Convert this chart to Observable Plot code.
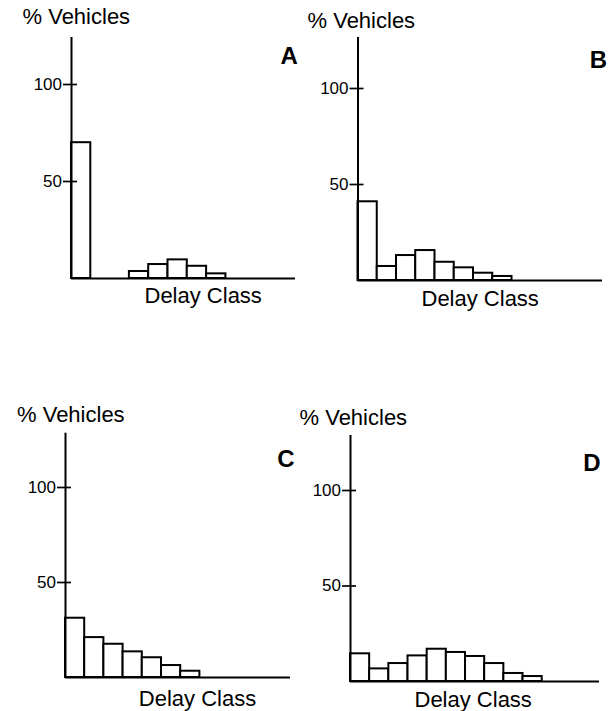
<!DOCTYPE html>
<html>
<head>
<meta charset="utf-8">
<script src="https://cdn.jsdelivr.net/npm/d3@7"></script>
<script src="https://cdn.jsdelivr.net/npm/@observablehq/plot@0.6"></script>
<style>
  html, body { margin: 0; padding: 0; background: white; }
  #chart { position: relative; width: 613px; height: 711px; overflow: hidden; }
  #chart > div { position: absolute; }
  #chart svg { overflow: visible; }
</style>
</head>
<body>
<div id="chart"></div>
<script>
// ---- data ----
const panelLetters = ["A", "B", "C", "D"];
const valuesA = [70, 0, 0, 3.6, 7.2, 9.6, 6.3, 2.4];
const valuesB = [41, 7.3, 13, 15.6, 9.5, 6.6, 3.8, 2.1];
const valuesC = [31.2, 21, 17.5, 13.5, 10.4, 6.3, 3.3];
const valuesD = [14.5, 6.6, 9.4, 13.4, 16.9, 15.2, 13.1, 9.4, 4.2, 2.6];
const yTicks = [50, 100];
const yLabel = "% Vehicles";
const xLabel = "Delay Class";

// ---- layout (pixel geometry, page coordinates) ----
const layout = {
  A: {box: [0, 0, 306, 355], axisX: 71, zeroY: 278, topY: 37, rightX: 295, unit: 1.94, bin: 19.3,
      title: [22, 16.7], letter: [280, 55.7], xlab: [144, 295.3]},
  B: {box: [306, 0, 307, 355], axisX: 357.5, zeroY: 280, topY: 37, rightX: 602, unit: 1.92, bin: 19.25,
      title: [307, 20], letter: [589.3, 60], xlab: [421, 298]},
  C: {box: [0, 355, 306, 356], axisX: 65, zeroY: 677, topY: 432.7, rightX: 290, unit: 1.9, bin: 19.2,
      title: [16.5, 414], letter: [276.7, 459], xlab: [138.3, 698]},
  D: {box: [306, 355, 307, 356], axisX: 350, zeroY: 681, topY: 435, rightX: 599, unit: 1.91, bin: 19.17,
      title: [299, 417], letter: [582.7, 462.5], xlab: [414, 699]}
};
const seriesByPanel = {A: valuesA, B: valuesB, C: valuesC, D: valuesD};
const tickOut = 8, tickIn = 6;

const font = "'Liberation Sans', Arial, Helvetica, sans-serif";
const chart = document.getElementById("chart");

for (const key of panelLetters) {
  const L = layout[key];
  const [bx, by, bw, bh] = L.box;
  const frameW = L.rightX - L.axisX;
  const xMax = frameW / L.bin;
  const yMax = (L.zeroY - L.topY) / L.unit;
  const data = seriesByPanel[key]
    .map((v, i) => ({bin: i, v}))
    .filter(d => d.v > 0);

  const textAt = (txt, pos, opts) => Plot.text([txt], {
    text: d => d,
    frameAnchor: "top-left",
    dx: pos[0] - L.axisX,
    dy: pos[1] - L.topY,
    textAnchor: "start",
    lineAnchor: "middle",
    fill: "black",
    ...opts
  });

  const svg = Plot.plot({
    width: bw,
    height: bh,
    marginLeft: L.axisX - bx,
    marginRight: bx + bw - L.rightX,
    marginTop: L.topY - by,
    marginBottom: by + bh - L.zeroY,
    style: {fontFamily: font, background: "transparent", overflow: "visible", color: "black"},
    x: {domain: [0, xMax], axis: null},
    y: {domain: [0, yMax]},
    marks: [
      Plot.rect(data, {
        x1: d => d.bin,
        x2: d => d.bin + 1,
        y1: 0,
        y2: "v",
        fill: "white",
        stroke: "black",
        strokeWidth: 2
      }),
      Plot.ruleX([0], {y1: 0, y2: yMax, stroke: "black", strokeWidth: 2}),
      Plot.ruleY([0], {x1: 0, x2: xMax, stroke: "black", strokeWidth: 2}),
      // crossing tick marks on the y axis
      Plot.tickY(yTicks, {
        y: d => d,
        insetLeft: -tickOut,
        insetRight: frameW - tickIn,
        stroke: "black",
        strokeWidth: 1.7
      }),
      // tick labels
      Plot.axisY({
        ticks: yTicks,
        tickSize: 0,
        tickPadding: tickOut + 1.5,
        tickFormat: d => String(d),
        fontSize: 17,
        label: null,
        fill: "black"
      }),
      textAt(yLabel, L.title, {fontSize: 22}),
      textAt(key, L.letter, {fontSize: 24, fontWeight: "bold"}),
      textAt(xLabel, L.xlab, {fontSize: 22})
    ]
  });

  const holder = document.createElement("div");
  holder.style.left = bx + "px";
  holder.style.top = by + "px";
  holder.style.width = bw + "px";
  holder.style.height = bh + "px";
  holder.appendChild(svg);
  chart.appendChild(holder);
}
</script>
</body>
</html>
